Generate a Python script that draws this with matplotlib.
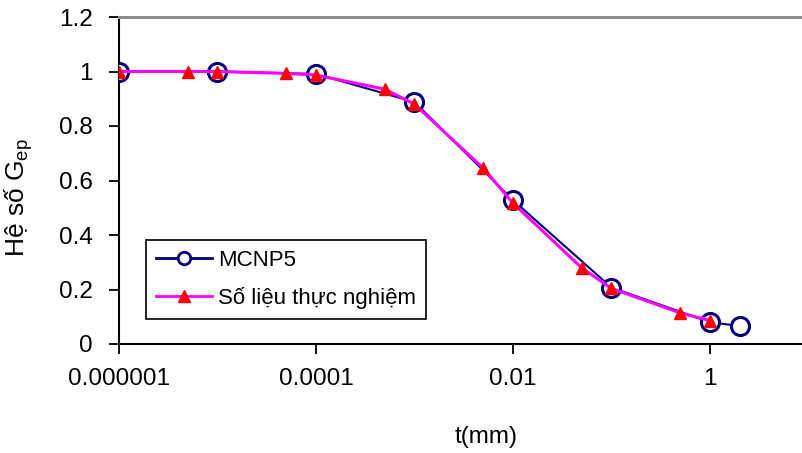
import matplotlib
matplotlib.use("Agg")
import matplotlib.pyplot as plt
from matplotlib.lines import Line2D
from matplotlib.ticker import FixedLocator, FixedFormatter, NullLocator

plt.rcParams["font.family"] = ["Liberation Sans", "DejaVu Sans"]
plt.rcParams["mathtext.fontset"] = "custom"
plt.rcParams["mathtext.rm"] = "Liberation Sans"
plt.rcParams["mathtext.it"] = "Liberation Sans"

# ── data ──────────────────────────────────────────────────────────────────────
mcnp_t = [1e-6, 1e-5, 1e-4, 1e-3, 1e-2, 1e-1, 1.0, 2.0]
mcnp_g = [1.0, 1.0, 0.991, 0.888, 0.528, 0.207, 0.080, 0.066]

exp_t = [1e-6, 5e-6, 1e-5, 5e-5, 1e-4, 5e-4, 1e-3, 5e-3, 1e-2, 5e-2, 1e-1, 0.5, 1.0]
exp_g = [1.0, 1.0, 1.0, 0.993, 0.987, 0.935, 0.880, 0.645, 0.517, 0.279, 0.204, 0.114, 0.086]

x_ticks = [1e-6, 1e-4, 1e-2, 1.0]
x_tick_labels = ["0.000001", "0.0001", "0.01", "1"]
y_ticks = [0, 0.2, 0.4, 0.6, 0.8, 1.0, 1.2]
y_tick_labels = ["0", "0.2", "0.4", "0.6", "0.8", "1", "1.2"]

NAVY = "#000080"
MAGENTA = "#FF00FF"
RED = "#FF0000"

fig = plt.figure(figsize=(8.02, 4.53), dpi=100)
ax = fig.add_axes([119 / 802, 1 - 344 / 453, 1 - 119 / 802, (344 - 17) / 453])

ax.plot(mcnp_t, mcnp_g, color=NAVY, lw=1.5, marker="o", ms=13,
        mfc="white", mec=NAVY, mew=2.2, zorder=3)
ax.plot(exp_t, exp_g, color=MAGENTA, lw=2.2, marker="^", ms=8,
        mfc=RED, mec=RED, zorder=4)

ax.set_xscale("log")
ax.set_xlim(1e-6, 10 ** ((802 - 119) / 98.5 - 6))
ax.set_ylim(0, 1.2)

ax.xaxis.set_major_locator(FixedLocator(x_ticks))
ax.xaxis.set_major_formatter(FixedFormatter(x_tick_labels))
ax.xaxis.set_minor_locator(NullLocator())
ax.yaxis.set_major_locator(FixedLocator(y_ticks))
ax.yaxis.set_major_formatter(FixedFormatter(y_tick_labels))

ax.tick_params(axis="both", direction="out", length=7, width=1.3,
               labelsize=17.5, color="black")
ax.tick_params(axis="x", pad=10)
ax.tick_params(axis="y", pad=12)

for side in ("left", "bottom"):
    ax.spines[side].set_color("black")
    ax.spines[side].set_linewidth(1.5)
ax.spines["top"].set_color("#8c8c8c")
ax.spines["top"].set_linewidth(2.2)
ax.spines["right"].set_visible(False)

ax.set_ylabel(r"Hệ số G$_{\mathrm{ep}}$", fontsize=19)
ax.yaxis.set_label_coords(-0.123, 0.448)
ax.set_xlabel("t(mm)", fontsize=17.5)
ax.xaxis.set_label_coords(0.537, -0.25)

handles = [
    Line2D([0], [0], color=NAVY, lw=2, marker="o", ms=9, mfc="white",
           mec=NAVY, mew=2, label="MCNP5"),
    Line2D([0], [0], color=MAGENTA, lw=2, marker="^", ms=8, mfc=RED,
           mec=RED, label="Số liệu thực nghiệm"),
]
leg = ax.legend(handles=handles, loc="lower left",
                bbox_to_anchor=(0.0395, 0.0765), borderaxespad=0,
                fontsize=16, handlelength=2.5, handletextpad=0.3,
                labelspacing=0.72, borderpad=0.45, fancybox=False,
                framealpha=1, edgecolor="black")
leg.get_frame().set_linewidth(1.2)

fig.savefig("out.png", dpi=100)
